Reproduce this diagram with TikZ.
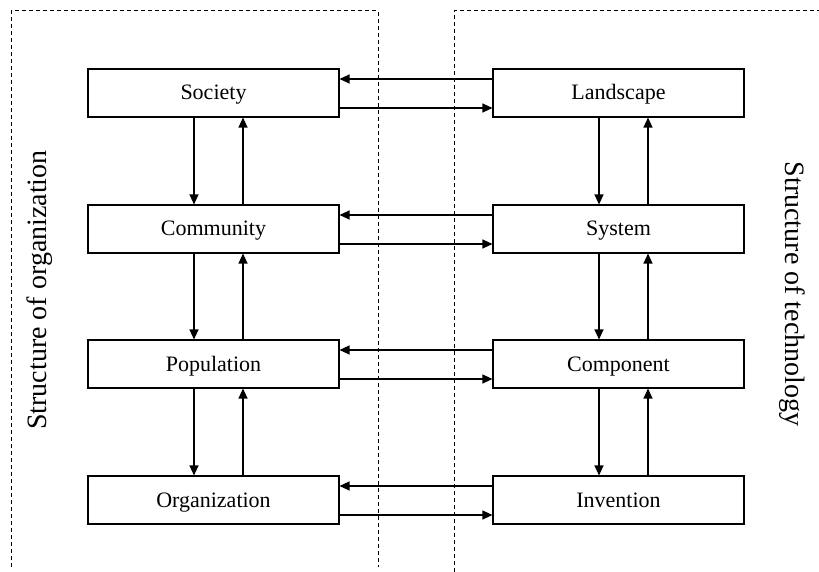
\documentclass[tikz,border=0pt]{standalone}
\usepackage{fontspec}
\setmainfont{Liberation Serif}
\usetikzlibrary{arrows.meta,calc}
\begin{document}
\begin{tikzpicture}[x=1pt,y=-1pt,
  level/.style={draw,line width=1.1pt,minimum width=251pt,minimum height=48pt,
    inner sep=0pt,text height=17pt,text depth=3pt,font=\fontsize{22}{26}\selectfont},
  arr/.style={line width=1.2pt,-{Triangle[length=10pt,width=9pt]}},
  frame/.style={line width=1pt,dash pattern=on 4pt off 3pt},
  side/.style={font=\fontsize{28}{32}\selectfont,inner sep=0pt}]
  \useasboundingbox (0,0) rectangle (819,572);

  % dashed frames around the two hierarchies
  \coordinate (la) at (11,567);
  \coordinate (lb) at (11,11);
  \coordinate (lc) at (378,11);
  \coordinate (ld) at (378,567);
  \coordinate (ra) at (454,572);
  \coordinate (rb) at (454,11);
  \coordinate (rc) at (819,11);
  \draw[frame] (la) -- (lb) -- (lc) -- (ld);
  \draw[frame] (ra) -- (rb) -- (rc);

  % levels of organization
  \node[level] (soc) at (213.5,93)  {Society};
  \node[level] (com) at (213.5,229) {Community};
  \node[level] (pop) at (213.5,364) {Population};
  \node[level] (org) at (213.5,500) {Organization};

  % levels of technology
  \node[level] (lan) at (618.5,93)  {Landscape};
  \node[level] (sys) at (618.5,229) {System};
  \node[level] (cmp) at (618.5,364) {Component};
  \node[level] (inv) at (618.5,500) {Invention};

  % side titles
  \node[side,rotate=90]  (torg) at (40,290)  {Structure of organization};
  \node[side,rotate=-90] (ttec) at (792,294) {Structure of technology};

  % links between the two hierarchies
  \foreach \a/\b in {soc/lan,com/sys,pop/cmp,org/inv}{
    \draw[arr] ($(\b.west)+(0,-14)$) -- ($(\a.east)+(0,-14)$);
    \draw[arr] ($(\a.east)+(0,15)$) -- ($(\b.west)+(0,15)$);
  }

  % links within each hierarchy
  \foreach \a/\b in {soc/com,com/pop,pop/org,lan/sys,sys/cmp,cmp/inv}{
    \draw[arr] ($(\a.south)+(-19.5,0)$) -- ($(\b.north)+(-19.5,0)$);
    \draw[arr] ($(\b.north)+(29.5,0)$) -- ($(\a.south)+(29.5,0)$);
  }
\end{tikzpicture}
\end{document}
